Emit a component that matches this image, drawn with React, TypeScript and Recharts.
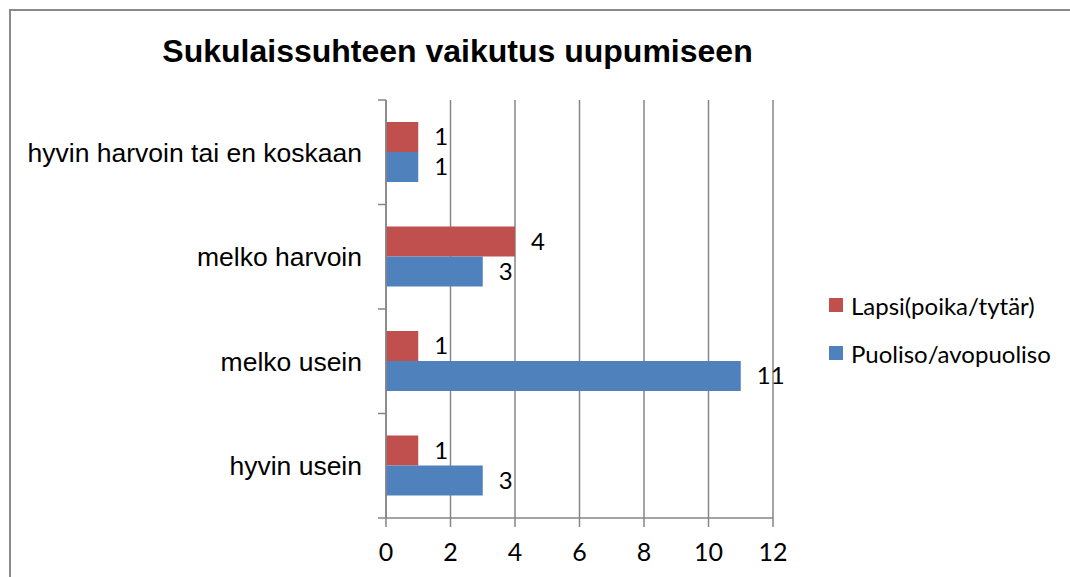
import React from 'react';
import { BarChart, Bar, XAxis, YAxis, CartesianGrid, Legend, LabelList } from 'recharts';

const categories = ['hyvin harvoin tai en koskaan', 'melko harvoin', 'melko usein', 'hyvin usein'];
const lapsiValues = [1, 4, 1, 1];
const puolisoValues = [1, 3, 11, 3];
const xTicks = [0, 2, 4, 6, 8, 10, 12];

const data = categories.map((name, i) => ({
  name,
  lapsi: lapsiValues[i],
  puoliso: puolisoValues[i],
}));

const AXIS_COLOR = '#868686';
const NUM_FONT = 'Lato, "Noto Sans", sans-serif';
const CHART_H = 577;
const MARGIN = { top: 100, right: 297, bottom: 9, left: 10 };
const X_AXIS_H = 50;
const BAND = (CHART_H - MARGIN.top - MARGIN.bottom - X_AXIS_H) / categories.length;

// category label + tick marks on band boundaries (like Excel)
const CategoryTick = (props: any) => {
  const { x, y, payload, index } = props;
  const ax = x + 24;
  return (
    <g>
      <text
        x={x}
        y={y}
        dy="0.36em"
        textAnchor="end"
        fontFamily='"Liberation Sans", Arial, sans-serif'
        fontSize={26.5}
        fill="#000"
      >
        {payload.value}
      </text>
      <line x1={ax - 8} x2={ax} y1={y - BAND / 2} y2={y - BAND / 2} stroke={AXIS_COLOR} strokeWidth={1.5} />
      {index === categories.length - 1 && (
        <line x1={ax - 8} x2={ax} y1={y + BAND / 2} y2={y + BAND / 2} stroke={AXIS_COLOR} strokeWidth={1.5} />
      )}
    </g>
  );
};

const LegendContent = (props: any) => {
  const { payload } = props;
  return (
    <div>
      {(payload || []).map((p: any) => (
        <div key={p.value} style={{ display: 'flex', alignItems: 'center', height: 48 }}>
          <span style={{ width: 14, height: 14, background: p.color, marginRight: 8, display: 'inline-block' }} />
          <span style={{ fontFamily: NUM_FONT, fontSize: 24, color: '#000' }}>{p.value}</span>
        </div>
      ))}
    </div>
  );
};

export default function App() {
  return (
    <div style={{ position: 'absolute', left: 0, top: 0, width: 1070, height: CHART_H, background: '#fff', overflow: 'hidden' }}>
      <div
        style={{
          position: 'absolute',
          left: 9,
          top: 9,
          width: 1100,
          height: 600,
          borderLeft: '2px solid #8a8a8a',
          borderTop: '2px solid #8a8a8a',
        }}
      />
      <div
        style={{
          position: 'absolute',
          left: 0,
          top: 35,
          width: 915,
          textAlign: 'center',
          fontFamily: '"Liberation Sans", Arial, sans-serif',
          fontWeight: 'bold',
          fontSize: 32,
          lineHeight: '32px',
          color: '#000',
        }}
      >
        Sukulaissuhteen vaikutus uupumiseen
      </div>
      <div style={{ position: 'absolute', left: 0, top: 0 }}>
        <BarChart
          width={1070}
          height={CHART_H}
          data={data}
          layout="vertical"
          margin={MARGIN}
          barCategoryGap="21%"
          barGap={0}
        >
          <CartesianGrid horizontal={false} stroke={AXIS_COLOR} strokeWidth={1.5} />
          <XAxis
            type="number"
            domain={[0, 12]}
            ticks={xTicks}
            height={X_AXIS_H}
            tickSize={9}
            tickMargin={16}
            stroke={AXIS_COLOR}
            strokeWidth={1.5}
            tick={{ fill: '#000', fontSize: 25, fontFamily: NUM_FONT }}
          />
          <YAxis
            type="category"
            dataKey="name"
            width={376}
            tickSize={8}
            tickMargin={16}
            tickLine={false}
            stroke={AXIS_COLOR}
            strokeWidth={1.5}
            tick={<CategoryTick />}
            interval={0}
          />
          <Legend
            layout="vertical"
            align="center"
            verticalAlign="middle"
            wrapperStyle={{ left: 829, top: 281, width: 240 }}
            content={<LegendContent />}
          />
          <Bar dataKey="lapsi" name="Lapsi(poika/tytär)" fill="#C0504D" isAnimationActive={false}>
            <LabelList dataKey="lapsi" position="right" offset={16} fill="#000" fontSize={24} fontFamily={NUM_FONT} />
          </Bar>
          <Bar dataKey="puoliso" name="Puoliso/avopuoliso" fill="#4F81BD" isAnimationActive={false}>
            <LabelList dataKey="puoliso" position="right" offset={16} fill="#000" fontSize={24} fontFamily={NUM_FONT} />
          </Bar>
        </BarChart>
      </div>
    </div>
  );
}
